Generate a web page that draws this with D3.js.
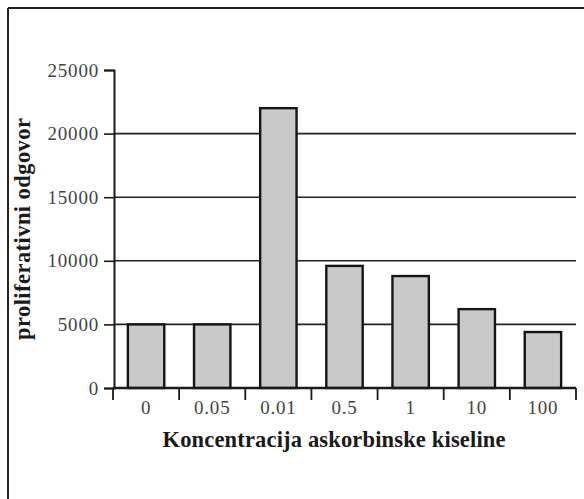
<!DOCTYPE html>
<html>
<head>
<meta charset="utf-8">
<script src="https://cdn.jsdelivr.net/npm/d3@7"></script>
<style>
  body { margin: 0; background: #fff; }
  svg { display: block; }
</style>
</head>
<body>
<div id="chart"></div>
<script>
// data
const concentrations = ["0", "0.05", "0.01", "0.5", "1", "10", "100"];
const responses = [5000, 5000, 22000, 9600, 8800, 6200, 4400];
const yTicks = [0, 5000, 10000, 15000, 20000, 25000];
const gridValues = [5000, 10000, 15000, 20000];

const width = 584, height = 499;
const plot = { left: 114, right: 576, top: 70, bottom: 388 };

const svg = d3.select("#chart").append("svg")
    .attr("width", width)
    .attr("height", height);

// frame (top + left edge only, like the scan)
svg.append("line")
    .attr("x1", 8).attr("x2", 584).attr("y1", 8).attr("y2", 8)
    .attr("stroke", "#222").attr("stroke-width", 2);
svg.append("line")
    .attr("x1", 8).attr("x2", 8).attr("y1", 8).attr("y2", 499)
    .attr("stroke", "#222").attr("stroke-width", 2);

const x = d3.scaleBand()
    .domain(concentrations)
    .range([plot.left - 1, plot.right])
    .paddingInner(0.45)
    .paddingOuter(0.225);

const y = d3.scaleLinear()
    .domain([0, 25000])
    .range([plot.bottom, plot.top]);

// gridlines behind bars
svg.append("g")
    .selectAll("line")
    .data(gridValues)
    .join("line")
    .attr("x1", plot.left).attr("x2", plot.right)
    .attr("y1", d => y(d)).attr("y2", d => y(d))
    .attr("stroke", "#222").attr("stroke-width", 1.6);

// bars
svg.append("g")
    .selectAll("rect")
    .data(responses)
    .join("rect")
    .attr("x", (d, i) => x(concentrations[i]))
    .attr("y", d => y(d))
    .attr("width", x.bandwidth())
    .attr("height", d => y(0) - y(d))
    .attr("fill", "#c9c9c9")
    .attr("stroke", "#151515")
    .attr("stroke-width", 2.4);

// y axis
const yAxis = d3.axisLeft(y)
    .tickValues(yTicks)
    .tickSize(10)
    .tickPadding(5)
    .tickFormat(d3.format("d"));

const gy = svg.append("g")
    .attr("transform", `translate(${plot.left},0)`)
    .call(yAxis);
gy.select(".domain").attr("stroke", "#1a1a1a").attr("stroke-width", 2);
gy.selectAll(".tick line").attr("stroke", "#1a1a1a").attr("stroke-width", 1.6);
gy.selectAll(".tick text")
    .attr("font-family", "'Liberation Serif', 'DejaVu Serif', serif")
    .attr("font-size", 19)
    .attr("letter-spacing", 0.8)
    .attr("fill", "#444");

// x axis: ticks sit on the band edges, labels at band centres
const gx = svg.append("g")
    .attr("transform", `translate(0,${plot.bottom})`);
gx.append("line")
    .attr("x1", plot.left - 1).attr("x2", plot.right)
    .attr("stroke", "#1a1a1a").attr("stroke-width", 2.4);
const edges = concentrations.map(c => x(c) - x.step() * x.paddingInner() / 2);
edges[0] = plot.left - 1;
edges.push(plot.right);
gx.selectAll(".edge")
    .data(edges)
    .join("line")
    .attr("class", "edge")
    .attr("x1", d => d).attr("x2", d => d)
    .attr("y1", 0).attr("y2", 12)
    .attr("stroke", "#1a1a1a").attr("stroke-width", 1.8);
gx.selectAll(".lbl")
    .data(concentrations)
    .join("text")
    .attr("class", "lbl")
    .attr("x", d => x(d) + x.bandwidth() / 2)
    .attr("y", 26)
    .attr("text-anchor", "middle")
    .attr("font-family", "'Liberation Serif', 'DejaVu Serif', serif")
    .attr("font-size", 19)
    .attr("letter-spacing", 0.8)
    .attr("fill", "#444")
    .text(d => d);

// axis titles
svg.append("text")
    .attr("x", 334)
    .attr("y", 447)
    .attr("text-anchor", "middle")
    .attr("font-family", "'Liberation Serif', 'DejaVu Serif', serif")
    .attr("font-weight", "bold")
    .attr("font-size", 22.5)
    .attr("textLength", 343)
    .attr("lengthAdjust", "spacing")
    .attr("fill", "#1a1a1a")
    .text("Koncentracija askorbinske kiseline");

svg.append("text")
    .attr("transform", "translate(30,229) rotate(-90)")
    .attr("text-anchor", "middle")
    .attr("font-family", "'Liberation Serif', 'DejaVu Serif', serif")
    .attr("font-weight", "bold")
    .attr("font-size", 22.5)
    .attr("textLength", 222)
    .attr("lengthAdjust", "spacing")
    .attr("fill", "#1a1a1a")
    .text("proliferativni odgovor");
</script>
</body>
</html>
